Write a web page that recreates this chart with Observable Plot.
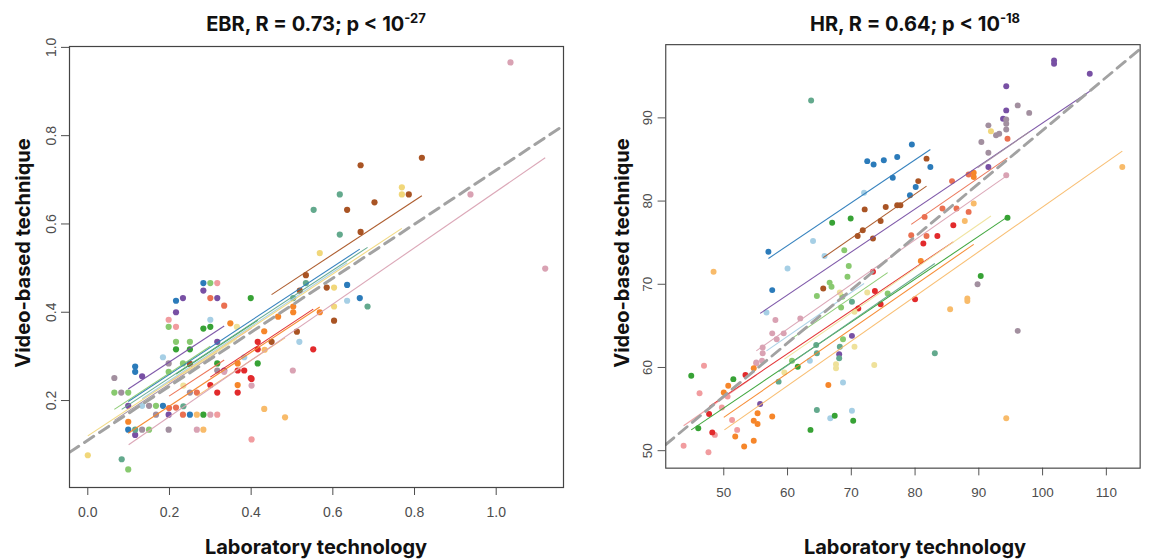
<!DOCTYPE html>
<html><head><meta charset="utf-8">
<script src="https://cdn.jsdelivr.net/npm/d3@7"></script>
<script src="https://cdn.jsdelivr.net/npm/@observablehq/plot@0.6"></script>
<style>
html,body{margin:0;padding:0;background:#fff;}
#wrap{position:relative;width:1156px;height:560px;overflow:hidden;background:#fff;}
.panel{position:absolute;top:0;}
#overlay{position:absolute;left:0;top:0;pointer-events:none;}
</style></head><body><div id="wrap"></div>
<script>
// ---- subjects & colours ----
const subjects = ["S01","S02","S03","S04","S05","S06","S07","S08","S09","S10","S11","S12","S13","S14","S15","S16"];
const subjectColors = ["#2b7bba","#a6cfe5","#37a235","#88c96f","#f19c9f","#e22a2c","#f6862a","#f8bb6a",
                       "#7850a4","#a28f9f","#a95424","#63a98d","#f1d77a","#ea7051","#d9a2b3","#efe19a"];

// ---- EBR panel: points per subject ----
const ebrX = [
  [.635,.666,.283,.216,.116,.116,.184,.250,.099],
  [.635,.518,.300,.184,.383,.133],
  [.399,.283,.300,.216,.250,.317,.416,.283],
  [.300,.198,.216,.250,.233,.198,.065,.099,.167,.150,.099],
  [.317,.198,.216,.317,.401],
  [.552,.416,.416,.401,.367,.317,.300,.367,.383,.399],
  [.568,.503,.466,.432,.349,.367,.367,.099,.503],
  [.432,.483,.267,.283,.433],
  [.283,.233,.317,.216,.317,.133,.099,.198,.116,.334],
  [.065,.082,.150,.167,.133,.198,.198,.250,.317,.250],
  [.818,.668,.635,.702,.786,.668,.534,.519,.585,.603,.512,.450,.250],
  [.617,.553,.617,.534,.503,.685,.116,.083,.234],
  [.769,.769,.568,.603,.603,0],
  [.300,.334,.199,.216,.233,.267],
  [1.035,1.12,.937,.502,.401,.300,.267,.334],
  [.365,.234]
];
const ebrY = [
  [.462,.432,.466,.426,.277,.265,.188,.168,.134],
  [.426,.333,.383,.298,.298,.188],
  [.432,.363,.367,.316,.316,.284,.284,.168],
  [.466,.367,.333,.333,.284,.265,.218,.218,.188,.134,.044],
  [.466,.383,.367,.168,.112],
  [.316,.316,.333,.249,.218,.218,.235,.268,.268,.251],
  [.400,.400,.390,.357,.375,.235,.284,.152,.413],
  [.181,.162,.168,.134,.315],
  [.449,.432,.432,.400,.333,.255,.188,.168,.122,.268],
  [.251,.218,.188,.168,.134,.134,.284,.218,.268,.283],
  [.750,.733,.632,.649,.667,.582,.484,.449,.456,.381,.356,.333,.283],
  [.667,.632,.576,.466,.432,.413,.134,.067,.187],
  [.683,.667,.534,.456,.413,.076],
  [.432,.415,.183,.184,.168,.218],
  [.966,.499,.667,.268,.234,.168,.134,.265],
  [.367,.234]
];
// per-subject fitted lines (x1, y1, x2, y2), one entry per subject
const ebrLineX1 = [.099,.133,.216,.065,.198,.300,.099,.267,.099,.065,.450,.083,0,.199,.100,.234];
const ebrLineY1 = [.198,.204,.260,.180,.240,.253,.126,.210,.226,.155,.440,.180,.120,.210,.100,.260];
const ebrLineX2 = [.666,.635,.416,.300,.401,.552,.568,.483,.334,.317,.818,.685,.769,.334,1.12,.365];
const ebrLineY2 = [.543,.512,.382,.323,.364,.407,.412,.342,.369,.309,.664,.547,.590,.292,.750,.340];
const ebrFit = {intercept: 0.11, slope: 0.612};
const ebrXTicks = [0, 0.2, 0.4, 0.6, 0.8, 1.0];
const ebrYTicks = [0.2, 0.4, 0.6, 0.8, 1.0];

// ---- HR panel: points per subject ----
const hrX = [
  [79.5,77.2,75.1,72.5,73.5,82.4,76.5,80.1,79.2,57.0,57.6],
  [72.0,64.0,65.8,60.0,56.7,63.5,68.7,66.7,70.1],
  [69.9,67.0,90.3,44.9,51.5,61.6,46.0,67.4,70.3,63.6,94.5],
  [68.9,69.6,69.4,66.6,66.9,64.6,68.6,75.7,68.4,68.7,60.7],
  [46.9,46.2,50.6,55.1,49.7,51.3,52.1,48.6,43.7,47.6],
  [86.0,83.5,81.3,73.4,73.7,74.6,71.1,80.0,53.4,47.7,48.2],
  [89.2,89.2,80.9,50.7,50.0,54.7,55.3,54.7,55.3,57.6,51.8,54.7,53.2,66.4],
  [48.4,89.2,87.8,85.5,88.2,88.2,94.3,112.5],
  [101.8,101.8,107.4,94.3,94.3,93.8,91.5,70.1,68.1,55.7],
  [96.1,97.9,94.3,94.3,94.3,91.5,92.7,93.2,90.4,91.5,89.8,96.1],
  [81.8,80.5,77.7,77.2,75.4,72.1,74.6,71.8,71.0,73.4,65.6],
  [63.7,70.1,68.2,68.1,64.5,64.6,58.6,83.1,64.6],
  [91.9],
  [88.4,85.8,81.5,84.3,86.5,88.4,81.8,79.4,94.5],
  [94.3,58.1,62.0,57.6,59.4,58.3,56.1,56.1,56.0,55.1],
  [68.2,72.5,70.5,70.5,67.6,67.6,73.6,59.5]
];
const hrY = [
  [86.8,85.3,84.9,84.8,84.4,84.1,82.8,81.7,80.7,73.9,69.3],
  [81.0,75.2,73.4,71.9,66.6,60.8,58.2,53.9,54.8],
  [77.9,77.4,71.0,59.0,58.6,60.1,52.7,54.2,53.6,52.5,78.0],
  [74.1,72.2,70.9,70.2,69.7,68.6,68.5,68.9,67.2,63.4,60.8],
  [60.2,56.9,56.5,60.5,55.2,53.7,52.5,51.9,50.6,49.8],
  [77.1,75.8,74.9,71.5,69.2,67.6,67.1,68.2,59.1,54.4,52.2],
  [83.4,82.9,72.8,57.8,57.0,59.9,54.5,53.6,53.2,54.1,51.7,51.2,50.5,57.9],
  [71.5,79.7,77.6,67.0,68.3,68.0,53.9,84.1],
  [96.9,96.5,95.3,93.8,90.9,89.9,84.1,63.8,61.6,55.6],
  [91.5,90.6,89.8,89.3,88.6,89.1,87.9,88.1,87.1,85.8,70.0,64.4],
  [85.1,82.4,79.5,79.5,79.3,79.0,77.6,76.5,75.8,75.5,69.5],
  [92.1,67.9,62.5,61.1,62.7,61.7,58.3,61.7,54.9],
  [88.4],
  [83.2,82.4,78.1,79.1,79.1,78.7,75.8,75.9,87.5],
  [83.1,65.7,65.9,64.1,64.1,63.4,62.4,61.7,60.8,60.6],
  [69.0,69.0,66.7,62.5,60.4,59.9,60.3,59.4]
];
const hrLineX1 = [57.0,56.7,44.9,60.7,43.7,47.7,50.0,50.1,55.7,89.8,65.6,58.6,null,79.4,55.1,59.5];
const hrLineY1 = [73.1,62.0,52.5,63.5,53.0,55.3,54.0,52.5,66.5,84.0,73.2,59.5,null,77.2,62.0,61.0];
const hrLineX2 = [82.4,72.0,94.5,75.7,55.1,86.0,89.2,112.5,107.4,97.9,81.8,83.1,null,94.5,94.3,91.9];
const hrLineY2 = [86.2,70.1,78.1,71.4,59.1,75.1,74.8,86.0,93.2,88.3,81.8,72.5,null,85.2,83.0,78.2];
const hrFit = {intercept: 24.6, slope: 0.639};
const hrXTicks = [50, 60, 70, 80, 90, 100, 110];
const hrYTicks = [50, 60, 70, 80, 90];

// ---- drawing ----
function panel({xs, ys, lx1, ly1, lx2, ly2, fit, xDomain, yDomain, xTicks, yTicks, fmt}) {
  const pts = xs.flatMap((arr, i) => arr.map((x, j) => ({x, y: ys[i][j], s: subjects[i]})));
  const lns = subjects.map((s, i) => ({s, x1: lx1[i], y1: ly1[i], x2: lx2[i], y2: ly2[i]}))
                      .filter(d => d.x1 != null);
  const fitLine = xDomain.map(x => ({x, y: fit.intercept + fit.slope * x}));
  return Plot.plot({
    width: 580, height: 560,
    marginLeft: 69, marginRight: 17, marginTop: 46, marginBottom: 73,
    x: {domain: xDomain},
    y: {domain: yDomain},
    color: {domain: subjects, range: subjectColors},
    style: {fontFamily: "'Liberation Sans', Arial, sans-serif", fontSize: "14px", color: "#4d4d4d", background: "transparent"},
    marks: [
      Plot.dot(pts, {x: "x", y: "y", fill: "s", r: 3.1}),
      Plot.link(lns, {x1: "x1", y1: "y1", x2: "x2", y2: "y2", stroke: "s", strokeWidth: 1.1, strokeOpacity: 0.95}),
      Plot.line(fitLine, {x: "x", y: "y", stroke: "#a2a2a2", strokeWidth: 3, strokeDasharray: "11,7", clip: true}),
      Plot.axisX({ticks: xTicks, tickFormat: fmt, tickSize: 8, tickPadding: 12, label: null}),
      Plot.axisY({ticks: yTicks, tickFormat: fmt, tickSize: 8, tickPadding: 6, tickRotate: -90, label: null}),
      Plot.frame({stroke: "#444", strokeWidth: 1.2})
    ]
  });
}

const wrap = document.getElementById("wrap");
const left = document.createElement("div"); left.className = "panel"; left.style.left = "0px";
left.appendChild(panel({xs: ebrX, ys: ebrY, lx1: ebrLineX1, ly1: ebrLineY1, lx2: ebrLineX2, ly2: ebrLineY2,
  fit: ebrFit, xDomain: [-0.0448, 1.1648], yDomain: [0.003, 1.002], xTicks: ebrXTicks, yTicks: ebrYTicks, fmt: d3.format(".1f")}));
wrap.appendChild(left);
const right = document.createElement("div"); right.className = "panel"; right.style.left = "599px";
right.appendChild(panel({xs: hrX, ys: hrY, lx1: hrLineX1, ly1: hrLineY1, lx2: hrLineX2, ly2: hrLineY2,
  fit: hrFit, xDomain: [40.9, 115.3], yDomain: [47.9, 98.8], xTicks: hrXTicks, yTicks: hrYTicks, fmt: d3.format("d")}));
wrap.appendChild(right);

// ---- titles & axis titles ----
const titles = [
  {x: 316, main: "EBR, R = 0.73; p < 10", sup: "-27"},
  {x: 915, main: "HR, R = 0.64; p < 10", sup: "-18"}
];
const ns = "http://www.w3.org/2000/svg";
const ov = document.createElementNS(ns, "svg");
ov.setAttribute("id", "overlay"); ov.setAttribute("width", 1156); ov.setAttribute("height", 560);
ov.setAttribute("font-family", "Inter, 'Open Sans', sans-serif");
ov.setAttribute("fill", "#111");
function addText(attrs, content) {
  const t = document.createElementNS(ns, "text");
  for (const k in attrs) t.setAttribute(k, attrs[k]);
  if (content != null) t.textContent = content;
  ov.appendChild(t); return t;
}
for (const t of titles) {
  const el = addText({x: t.x, y: 31, "text-anchor": "middle", "font-size": 20, "font-weight": 650}, t.main);
  const sp = document.createElementNS(ns, "tspan");
  sp.setAttribute("dy", -8); sp.setAttribute("font-size", 13); sp.textContent = t.sup;
  el.appendChild(sp);
}
for (const cx of [316, 915]) addText({x: cx, y: 554, "text-anchor": "middle", "font-size": 20, "font-weight": 650}, "Laboratory technology");
for (const bx of [30, 629]) addText({transform: `translate(${bx},253) rotate(-90)`, "text-anchor": "middle", "font-size": 20, "font-weight": 650}, "Video-based technique");
wrap.appendChild(ov);
</script></body></html>
